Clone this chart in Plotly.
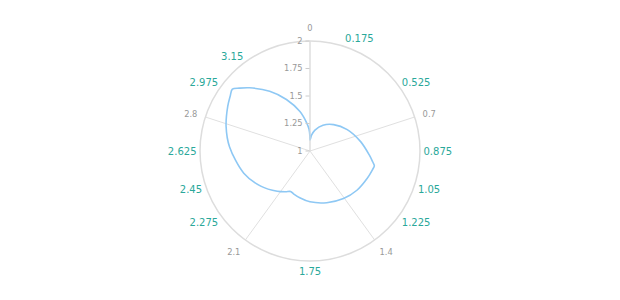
import plotly.graph_objects as go

# angle axis spans 0..3.5 over the full circle
ANGLE_MAX = 3.5

theta_vals = [0.0, 0.058, 0.13, 0.26, 0.407, 0.585, 0.773, 0.912, 0.97, 1.0,
              1.04, 1.125, 1.263, 1.408, 1.575, 1.75, 1.87, 1.95, 2.0,
              2.05, 2.13, 2.28, 2.445, 2.655, 2.784, 2.902, 2.96, 3.0,
              3.03, 3.075, 3.169, 3.261, 3.361, 3.434, 3.475, 3.495, 3.5]
r_vals = [1.10, 1.147, 1.195, 1.262, 1.322, 1.39, 1.468, 1.54, 1.578, 1.60,
          1.592, 1.576, 1.556, 1.529, 1.494, 1.462, 1.435, 1.418, 1.408,
          1.432, 1.472, 1.55, 1.635, 1.733, 1.795, 1.851, 1.88, 1.903,
          1.86, 1.795, 1.655, 1.515, 1.37, 1.258, 1.20, 1.14, 1.10]

major_ticks = [0, 0.7, 1.4, 2.1, 2.8]
minor_ticks = [0.175, 0.525, 0.875, 1.05, 1.225, 1.75, 2.275, 2.45, 2.625, 2.975, 3.15]
radial_ticks = [1, 1.25, 1.5, 1.75, 2]
radial_labels = ["1", "1.25", "1.5", "1.75", "2"]


def to_deg(v):
    return v / ANGLE_MAX * 360.0


fig = go.Figure()
fig.add_trace(go.Scatterpolar(
    r=r_vals, theta=[to_deg(t) for t in theta_vals], mode="lines",
    line=dict(color="#8ec8f4", width=1.6, shape="spline", smoothing=0.9),
    subplot="polar", showlegend=False, hoverinfo="skip"))
fig.add_trace(go.Scatterpolar(r=[], theta=[], subplot="polar2",
                              showlegend=False, hoverinfo="skip"))

font = "DejaVu Sans, Verdana, sans-serif"
fig.update_layout(
    width=620, height=300,
    margin=dict(l=0, r=0, t=41, b=39),
    paper_bgcolor="white",
    showlegend=False,
    polar=dict(
        domain=dict(x=[0, 1], y=[0, 1]),
        bgcolor="rgba(0,0,0,0)",
        angularaxis=dict(
            rotation=90, direction="clockwise",
            tickmode="array", tickvals=[to_deg(v) for v in major_ticks],
            ticktext=[str(v) for v in major_ticks],
            tickfont=dict(family=font, size=8.3, color="#999999"),
            showgrid=True, gridcolor="#e0e0e0", gridwidth=1,
            showline=True, linecolor="#dddddd", linewidth=1.5,
            ticks="outside", ticklen=6, tickcolor="rgba(0,0,0,0)"),
        radialaxis=dict(
            range=[1, 2], angle=90, side="counterclockwise",
            tickmode="array", tickvals=radial_ticks, ticktext=radial_labels,
            tickfont=dict(family=font, size=8.3, color="#999999"),
            ticks="outside", ticklen=4, tickcolor="#cccccc",
            showgrid=False, showline=True, linecolor="#dddddd", tickangle=90)),
    polar2=dict(
        domain=dict(x=[0, 1], y=[0, 1]),
        bgcolor="rgba(0,0,0,0)",
        angularaxis=dict(
            rotation=90, direction="clockwise",
            tickmode="array", tickvals=[to_deg(v) for v in minor_ticks],
            ticktext=[str(v) for v in minor_ticks],
            tickfont=dict(family=font, size=10, color="#2aa89a"),
            showgrid=False, showline=False,
            ticks="outside", ticklen=1, tickcolor="rgba(0,0,0,0)"),
        radialaxis=dict(visible=False, range=[1, 2])),
)

fig.write_html("out.html")
